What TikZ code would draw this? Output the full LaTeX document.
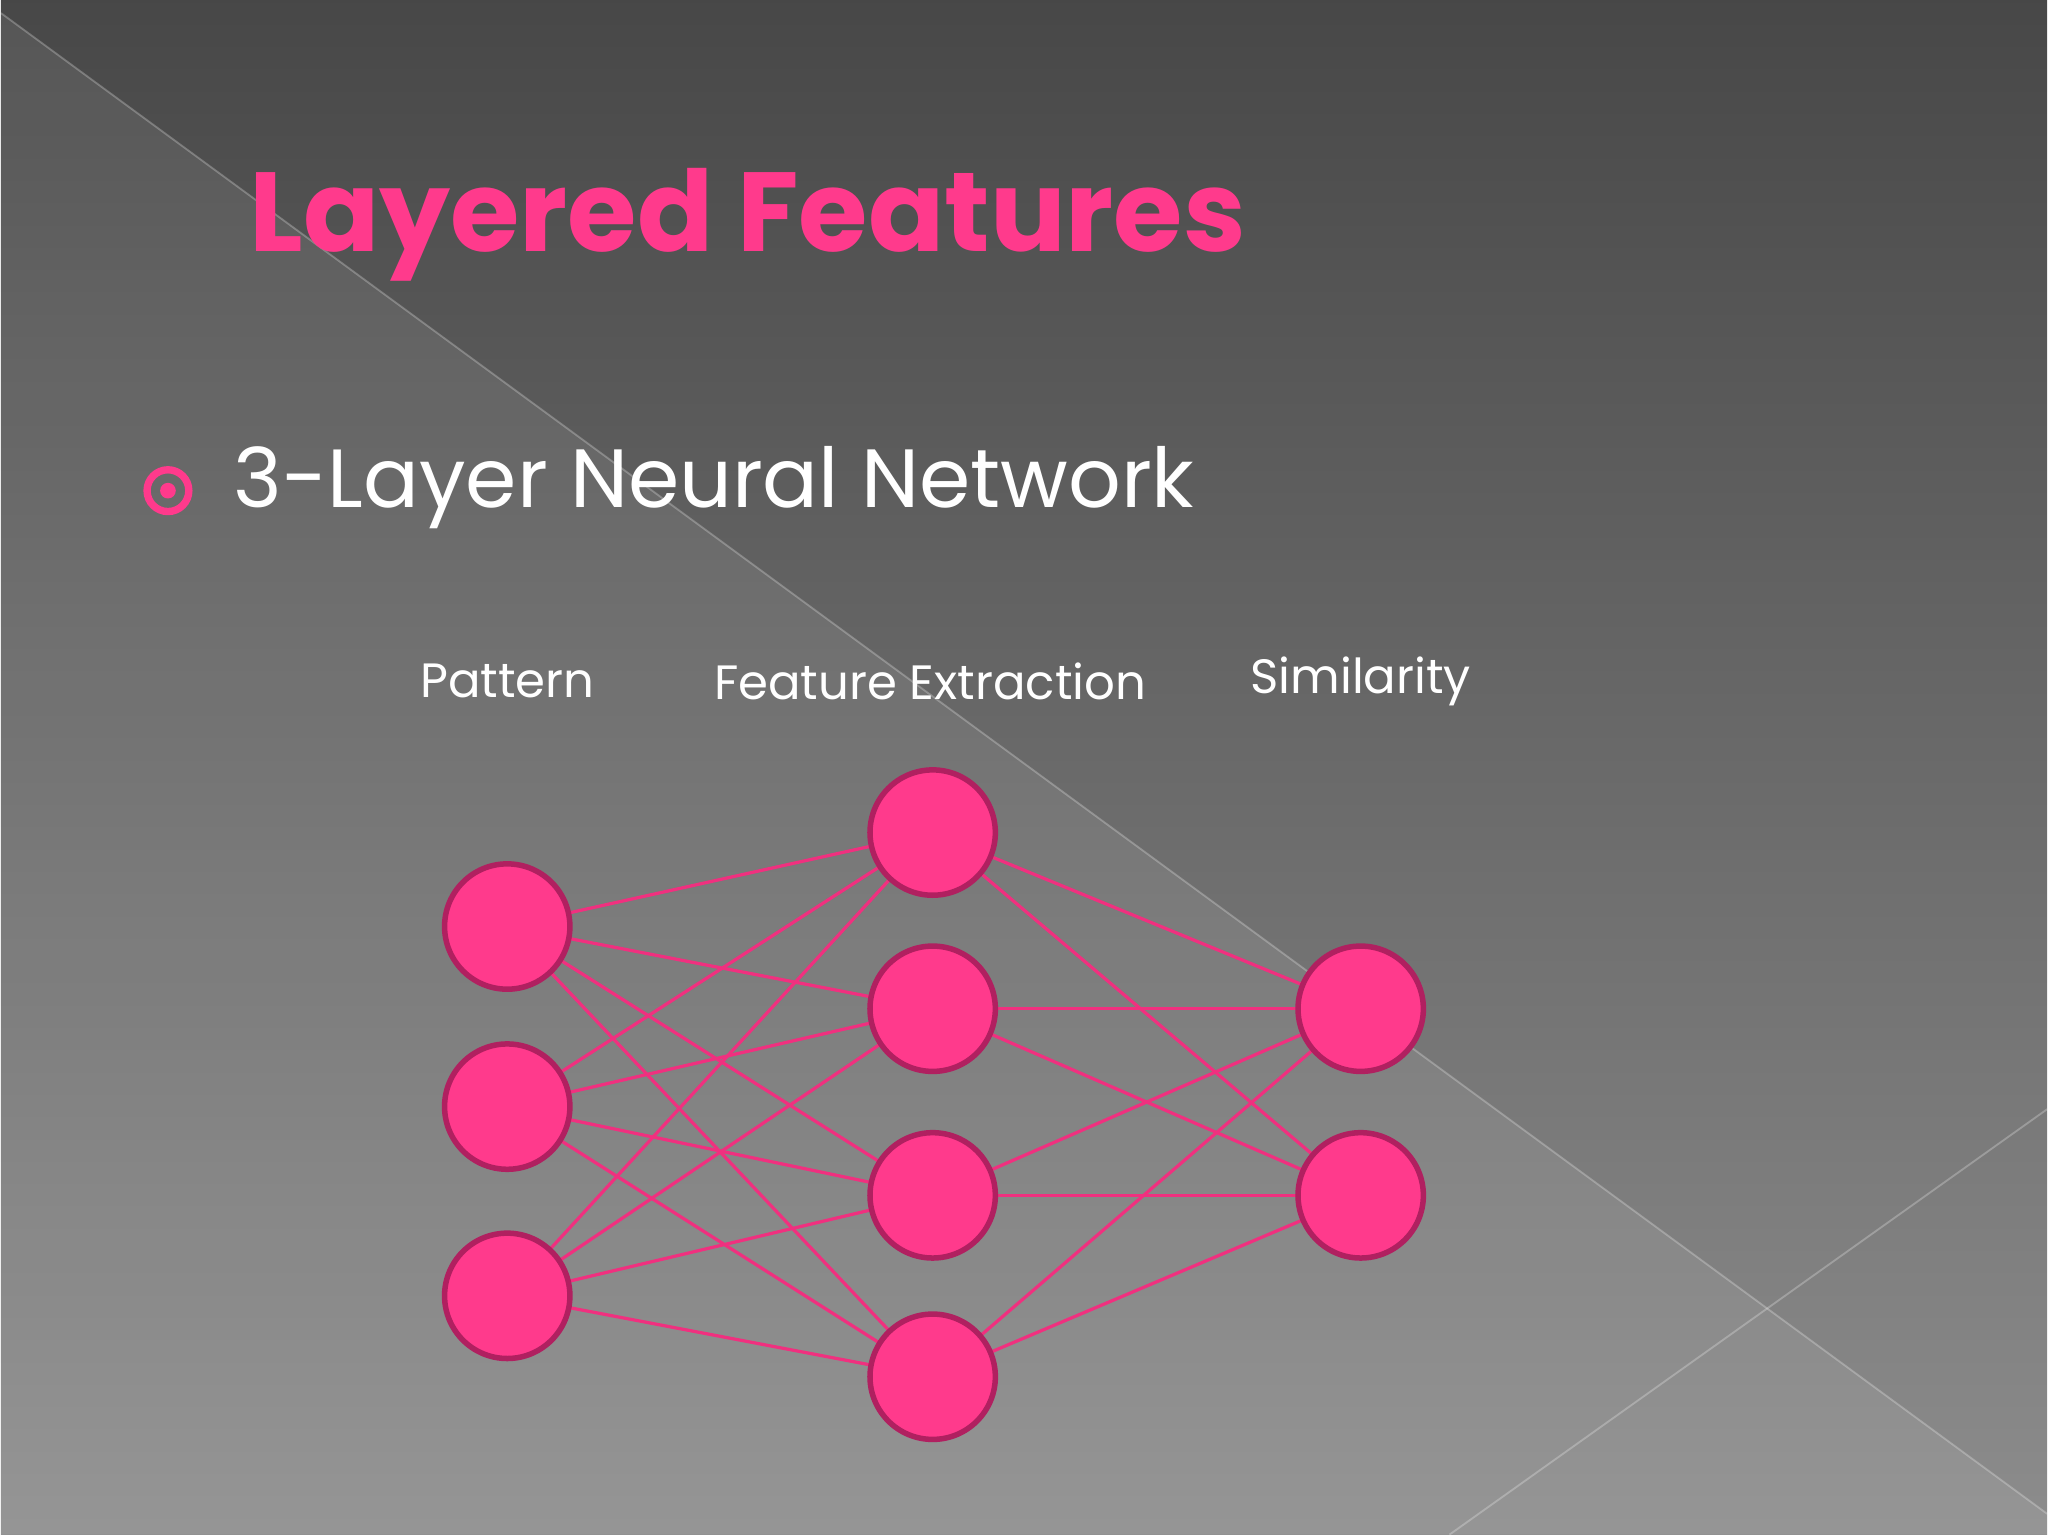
\documentclass[tikz,border=0pt]{standalone}
\usepackage{fontspec}
\setmainfont{Poppins}
\usetikzlibrary{positioning}
\definecolor{nodepink}{HTML}{FF3A8C}
\definecolor{edgepink}{HTML}{F0307F}
\definecolor{rimpink}{HTML}{B02060}
\tikzset{
  neuron/.style={circle,draw=rimpink,line width=1.2pt,fill=nodepink,minimum size=0.96cm,inner sep=0pt},
  link/.style={edgepink,line width=0.7pt},
  head/.style={text=white,font=\fontsize{10.5}{13}\selectfont}
}
\begin{document}
\begin{tikzpicture}[x=0.01cm,y=-0.01cm]
  % background
  \shade[top color=black!72,bottom color=black!45] (0,0) rectangle (1568,1176);
  \fill[white,opacity=0.08] (0,10) -- (1568,1160) -- (1568,1176) -- (0,1176) -- cycle;
  \draw[white,opacity=0.25] (0,10) -- (1568,1160);
  \draw[white,opacity=0.25] (1110,1176) -- (1568,850);
  \useasboundingbox (0,0) rectangle (1568,1176);

  % title and bullet
  \node[anchor=west,text=nodepink,font=\fontsize{24.5}{30}\selectfont\bfseries] (title) at (178,172) {Layered Features};
  \node[circle,draw=nodepink,line width=1.6pt,minimum size=0.32cm,inner sep=0pt] (bullet) at (128,376) {};
  \fill[nodepink] (bullet) circle (6);
  \node[anchor=west,text=white,font=\fontsize{18}{22}\selectfont] (sub) at (166,374) {3-Layer Neural Network};

  % layer headings
  \node[head] (hp) at (388,522) {Pattern};
  \node[head] (hf) at (712,522) {Feature Extraction};
  \node[head] (hs) at (1042,522) {Similarity};

  % neuron positions
  \foreach \n/\y in {1/710,2/848,3/993}
    \coordinate (p\n) at (388,\y);
  \foreach \n/\y in {1/638,2/773,3/916,4/1055}
    \coordinate (f\n) at (714,\y);
  \foreach \n/\y in {1/773,2/916}
    \coordinate (s\n) at (1042,\y);

  % connections
  \foreach \i in {1,2,3}
    \foreach \j in {1,2,3,4}
      \draw[link] (p\i) -- (f\j);
  \foreach \j in {1,2,3,4}
    \foreach \k in {1,2}
      \draw[link] (f\j) -- (s\k);

  % neurons
  \foreach \c in {p1,p2,p3,f1,f2,f3,f4,s1,s2}
    \node[neuron] (n\c) at (\c) {};
\end{tikzpicture}
\end{document}
